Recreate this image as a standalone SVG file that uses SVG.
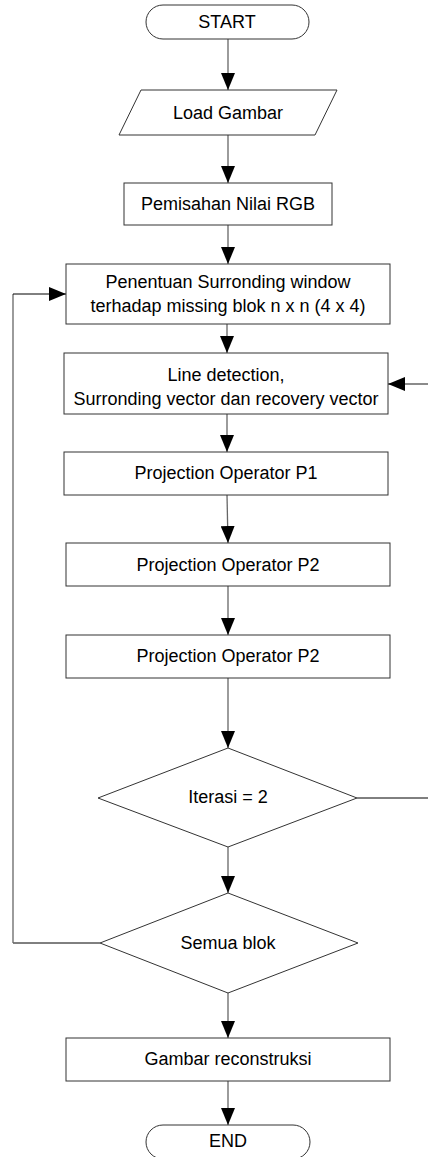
<svg xmlns="http://www.w3.org/2000/svg" width="428" height="1157" viewBox="0 0 428 1157">
<style>
.s{fill:#fff;stroke:#333;stroke-width:1}
.t{font-family:"Liberation Sans",Arial,sans-serif;font-size:18px;fill:#000;text-anchor:middle}
.c{fill:none;stroke:#666;stroke-width:1.3}
.k{fill:none;stroke:#000;stroke-width:1}
</style>
<defs>
<marker id="a" markerUnits="userSpaceOnUse" markerWidth="18" markerHeight="14" refX="17" refY="7" orient="auto">
<path d="M0,0 L17,7 L0,14 Z" fill="#000"/>
</marker>
</defs>
<rect width="428" height="1157" fill="#fff"/>
<g id="connectors">
<line class="c" x1="228" y1="39" x2="228" y2="90" marker-end="url(#a)"/>
<line class="c" x1="228" y1="135" x2="228" y2="183" marker-end="url(#a)"/>
<line class="c" x1="228" y1="225" x2="228" y2="264" marker-end="url(#a)"/>
<line class="c" x1="227" y1="324" x2="227" y2="353" marker-end="url(#a)"/>
<line class="c" x1="227" y1="414" x2="227" y2="452" marker-end="url(#a)"/>
<line class="c" x1="227" y1="495" x2="228" y2="543" marker-end="url(#a)"/>
<line class="c" x1="228" y1="586" x2="228" y2="635" marker-end="url(#a)"/>
<line class="c" x1="228" y1="678" x2="228" y2="748" marker-end="url(#a)"/>
<line class="c" x1="228" y1="847" x2="228" y2="893" marker-end="url(#a)"/>
<polyline class="k" points="357,798 430,798"/>
<polyline class="c" points="430,798 430,384 388,384" marker-end="url(#a)"/>
<polyline class="k" points="100,943 13,943"/>
<polyline class="c" points="13,943 13,294"/>
<polyline class="k" points="13,294 66,294" marker-end="url(#a)"/>
<line class="c" x1="228" y1="993" x2="228" y2="1038" marker-end="url(#a)"/>
<line class="c" x1="228" y1="1081" x2="228" y2="1125" marker-end="url(#a)"/>
</g>
<g id="start"><rect class="s" x="146" y="5" width="163" height="34" rx="17"/><text class="t" x="227" y="28">START</text></g>
<g id="load"><polygon class="s" points="141,90 337,90 315,135 119,135"/><text class="t" x="228" y="119">Load Gambar</text></g>
<g id="pemisahan"><rect class="s" x="124" y="183" width="208" height="42"/><text class="t" x="228" y="210">Pemisahan Nilai RGB</text></g>
<g id="penentuan"><rect class="s" x="66" y="264" width="324" height="60"/><text class="t" x="228" y="288">Penentuan Surronding window</text><text class="t" x="228" y="312">terhadap missing blok n x n (4 x 4)</text></g>
<g id="line"><rect class="s" x="64" y="353" width="324" height="61"/><text class="t" x="226" y="381">Line detection,</text><text class="t" x="226" y="405">Surronding vector dan recovery vector</text></g>
<g id="p1"><rect class="s" x="64" y="452" width="324" height="43"/><text class="t" x="226" y="479">Projection Operator P1</text></g>
<g id="p2"><rect class="s" x="66" y="543" width="324" height="43"/><text class="t" x="228" y="571">Projection Operator P2</text></g>
<g id="p2b"><rect class="s" x="66" y="635" width="324" height="43"/><text class="t" x="228" y="662">Projection Operator P2</text></g>
<g id="iterasi"><polygon class="s" points="228,748 357,798 228,847 98,798"/><text class="t" x="228" y="803">Iterasi = 2</text></g>
<g id="semua"><polygon class="s" points="228,893 358,943 228,993 100,943"/><text class="t" x="228" y="949">Semua blok</text></g>
<g id="gambar"><rect class="s" x="66" y="1038" width="324" height="43"/><text class="t" x="228" y="1065">Gambar reconstruksi</text></g>
<g id="end"><rect class="s" x="146" y="1125" width="164" height="34" rx="17"/><text class="t" x="228" y="1147">END</text></g>
</svg>
